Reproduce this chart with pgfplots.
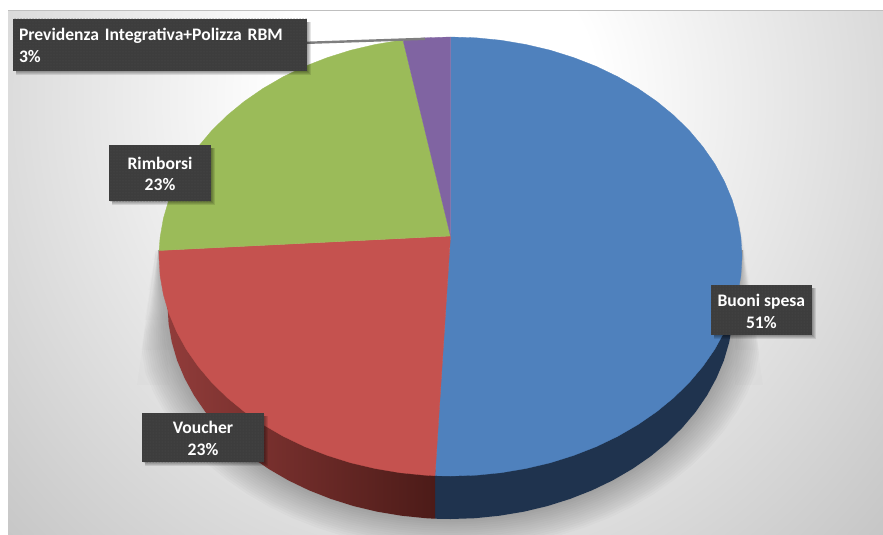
\documentclass[border=0pt]{standalone}
\usepackage{pgfplots}
\pgfplotsset{compat=1.18}
\usepackage{pgfplotstable}
\usepackage{fontspec}
\setmainfont{Carlito}
\usetikzlibrary{patterns}

\definecolor{bgedge}{HTML}{BEBEBE}
\definecolor{sliceBlue}{HTML}{4F81BD}
\definecolor{sliceRed}{HTML}{C5524F}
\definecolor{sliceGreen}{HTML}{9BBB59}
\definecolor{slicePurple}{HTML}{8064A2}
\definecolor{sideBlue}{HTML}{1F334E}
\definecolor{sideRedA}{HTML}{913C3A}
\definecolor{sideRedB}{HTML}{4C1B18}
\definecolor{labelBox}{HTML}{3D3D3D}
\definecolor{labelDot}{HTML}{4E4E4E}
\definecolor{leader}{HTML}{7F7F7F}
\definecolor{frameLine}{HTML}{BFBFBF}

\pgfdeclareradialshading{bgglow}{\pgfpointorigin}{%
  color(0bp)=(white);color(8bp)=(white);color(34bp)=(bgedge);color(50bp)=(bgedge)}

% Outline of the shadow under the pie
\pgfplotstableread{
x y
158 250
167.5 305
168.6 323.7
171.8 342.2
177.1 360.4
184.6 378.2
194.0 395.4
205.4 412.0
218.7 427.7
233.7 442.6
250.4 456.3
268.6 468.9
288.2 480.3
309.0 490.3
330.9 498.9
353.7 506.1
377.3 511.7
401.4 515.7
425.8 518.2
450.5 519.0
475.2 518.2
499.6 515.7
523.7 511.7
547.3 506.1
570.1 498.9
592.0 490.3
612.8 480.3
632.4 468.9
650.6 456.3
667.3 442.6
682.3 427.7
695.6 412.0
707.0 395.4
716.4 378.2
723.9 360.4
729.2 342.2
732.4 323.7
733.5 305
743 250
}\shadowoutline

\begin{document}
\begin{tikzpicture}
\begin{axis}[
  scale only axis, width=883pt, height=535pt,
  xmin=0, xmax=883, ymin=0, ymax=535, y dir=reverse,
  hide axis, clip=true,
]
% backdrop
\addplot[draw=none, shading=bgglow] coordinates {(-50,-420) (930,-420) (930,620) (-50,620)} --cycle;
\addplot[draw=none, fill=white] coordinates {(0,0) (883,0) (883,10) (0,10)} --cycle;
\addplot[draw=none, fill=white] coordinates {(0,0) (8,0) (8,535) (0,535)} --cycle;
\addplot[draw=frameLine, line width=1.3pt] coordinates {(8,10.5) (883,10.5)};

% faint slivers beside the pie
\pgfplotsinvokeforeach{260,290,320,350,385}{
  \addplot[draw=none, fill=black, fill opacity=0.010] coordinates {(738,215) (746+17*(#1-250)/135,#1) (735,#1)} --cycle;
  \addplot[draw=none, fill=black, fill opacity=0.012] coordinates {(156,250) (153-16*(#1-250)/135,#1) (170,#1)} --cycle;
}
% soft shadow below the pie
\pgfplotsinvokeforeach{1.004,1.012,1.020,1.028,1.036,1.044,1.052,1.060,1.068,1.076,1.084,1.092,1.100,1.108,1.116}{
  \addplot[draw=none, fill=black, fill opacity=0.021]
    table[x expr={\thisrow{x}+(\thisrow{x}-450.5)*(#1-1)*max(0,min(1,(\thisrow{y}-250)/100))},
          y expr={250+(\thisrow{y}-250)*#1}] {\shadowoutline} --cycle;
}

% rim of the pie
\addplot[draw=none, fill=sideBlue] coordinates {
(435,470) (435,518.7) (450.5,519.0) (475.2,518.2) (499.6,515.7) (523.7,511.7)
(547.3,506.1) (570.1,498.9) (592.0,490.3) (612.8,480.3) (632.4,468.9) (650.6,456.3)
(667.3,442.6) (682.3,427.7) (695.6,412.0) (707.0,395.4) (716.4,378.2) (723.9,360.4)
(729.2,342.2) (732.4,323.7) (733.5,305)} --cycle;
\addplot[draw=none, left color=sideRedA, right color=sideRedB] coordinates {
(435,470) (435,518.7) (425.8,518.2) (401.4,515.7) (377.3,511.7) (353.7,506.1)
(330.9,498.9) (309.0,490.3) (288.2,480.3) (268.6,468.9) (250.4,456.3) (233.7,442.6)
(218.7,427.7) (205.4,412.0) (194.0,395.4) (184.6,378.2) (177.1,360.4) (171.8,342.2)
(168.6,323.7) (167.5,305)} --cycle;

% top face: Buoni spesa 51%
\addplot[draw=sliceBlue, line width=.3pt, fill=sliceBlue] coordinates {
(450.5,236) (450.5,37.0) (475.9,37.8) (501.1,40.3) (525.9,44.5) (550.2,50.2) (573.7,57.6)
(596.3,66.4) (617.7,76.7) (637.9,88.4) (656.6,101.3) (673.8,115.4) (689.3,130.6)
(702.9,146.8) (714.7,163.7) (724.4,181.4) (732.1,199.7) (737.6,218.4) (740.9,237.4)
(742.0,256.5) (740.9,275.6) (737.6,294.6) (732.1,313.3) (724.4,331.6) (714.7,349.3)
(702.9,366.3) (689.3,382.4) (673.8,397.6) (656.6,411.7) (637.9,424.6) (617.7,436.3)
(596.3,446.6) (573.7,455.4) (550.2,462.8) (525.9,468.5) (501.1,472.7) (475.9,475.2)
(450.5,476.0) (435,475.7)} --cycle;
% Voucher 23%
\addplot[draw=sliceRed, line width=.3pt, fill=sliceRed] coordinates {
(450.5,236) (435,475.7) (425.1,475.2) (399.9,472.7) (375.1,468.5) (350.8,462.8) (327.3,455.4)
(304.7,446.6) (283.3,436.3) (263.1,424.6) (244.4,411.7) (227.2,397.6) (211.7,382.4)
(198.1,366.3) (186.3,349.3) (176.6,331.6) (168.9,313.3) (163.4,294.6) (160.1,275.6)
(159.0,256.5) (159.1,250.5)} --cycle;
% Rimborsi 23%
\addplot[draw=sliceGreen, line width=.3pt, fill=sliceGreen] coordinates {
(450.5,236) (159.1,250.5) (160.1,237.4) (163.4,218.4) (168.9,199.7) (176.6,181.4)
(186.3,163.7) (198.1,146.8) (211.7,130.6) (227.2,115.4) (244.4,101.3) (263.1,88.4)
(283.3,76.7) (304.7,66.4) (327.3,57.6) (350.8,50.2) (375.1,44.5) (399.9,40.3) (403.3,41.2)} --cycle;
% Previdenza Integrativa+Polizza RBM 3%
\addplot[draw=slicePurple, line width=.3pt, fill=slicePurple] coordinates {
(450.5,236) (403.3,41.2) (403.3,39.8) (425.1,37.8) (450.5,37.0)} --cycle;

% leader line of the smallest slice
\addplot[draw=leader, line width=2.4pt] coordinates {(307,42.8) (425,38.8)};

% data labels
\tikzset{
  boxshadow/.style={draw=none, fill=black, fill opacity=0.10},
}
\pgfplotsinvokeforeach{0,1,2,3,4}{
  \addplot[boxshadow] coordinates {(12.5+3,18.5+3) (307+#1,18.5+3) (307+#1,71+#1) (12.5+3,71+#1)} --cycle;
  \addplot[boxshadow] coordinates {(109+3,145+3) (211+#1,145+3) (211+#1,201+#1) (109+3,201+#1)} --cycle;
  \addplot[boxshadow] coordinates {(142+3,413+3) (264+#1,413+3) (264+#1,462+#1) (142+3,462+#1)} --cycle;
  \addplot[boxshadow] coordinates {(711+3,285+3) (811.7+#1,285+3) (811.7+#1,335+#1) (711+3,335+#1)} --cycle;
}
\tikzset{
  lab/.style={inner sep=0pt, outer sep=0pt, text=white,
    font=\fontsize{17.6}{21.5}\selectfont\bfseries, align=center},
  pat/.style={draw=none, pattern=dots, pattern color=labelDot},
}
\fill[labelBox] (axis cs:12.5,18.5) rectangle (axis cs:307,71);
\fill[labelBox] (axis cs:109,145) rectangle (axis cs:211,201);
\fill[labelBox] (axis cs:142,413) rectangle (axis cs:264,462);
\fill[labelBox] (axis cs:711,285) rectangle (axis cs:811.7,335);
\fill[pat] (axis cs:12.5,18.5) rectangle (axis cs:307,71);
\fill[pat] (axis cs:109,145) rectangle (axis cs:211,201);
\fill[pat] (axis cs:142,413) rectangle (axis cs:264,462);
\fill[pat] (axis cs:711,285) rectangle (axis cs:811.7,335);
\node[lab, text width=281pt, align=left, anchor=west] at (axis cs:19,45.5)
  {Previdenza Integrativa+Polizza RBM\\3\%};
\node[lab] at (axis cs:160,174) {Rimborsi\\23\%};
\node[lab] at (axis cs:203,438.5) {Voucher\\23\%};
\node[lab] at (axis cs:761.35,311.5) {Buoni spesa\\51\%};
\end{axis}
\end{tikzpicture}
\end{document}
